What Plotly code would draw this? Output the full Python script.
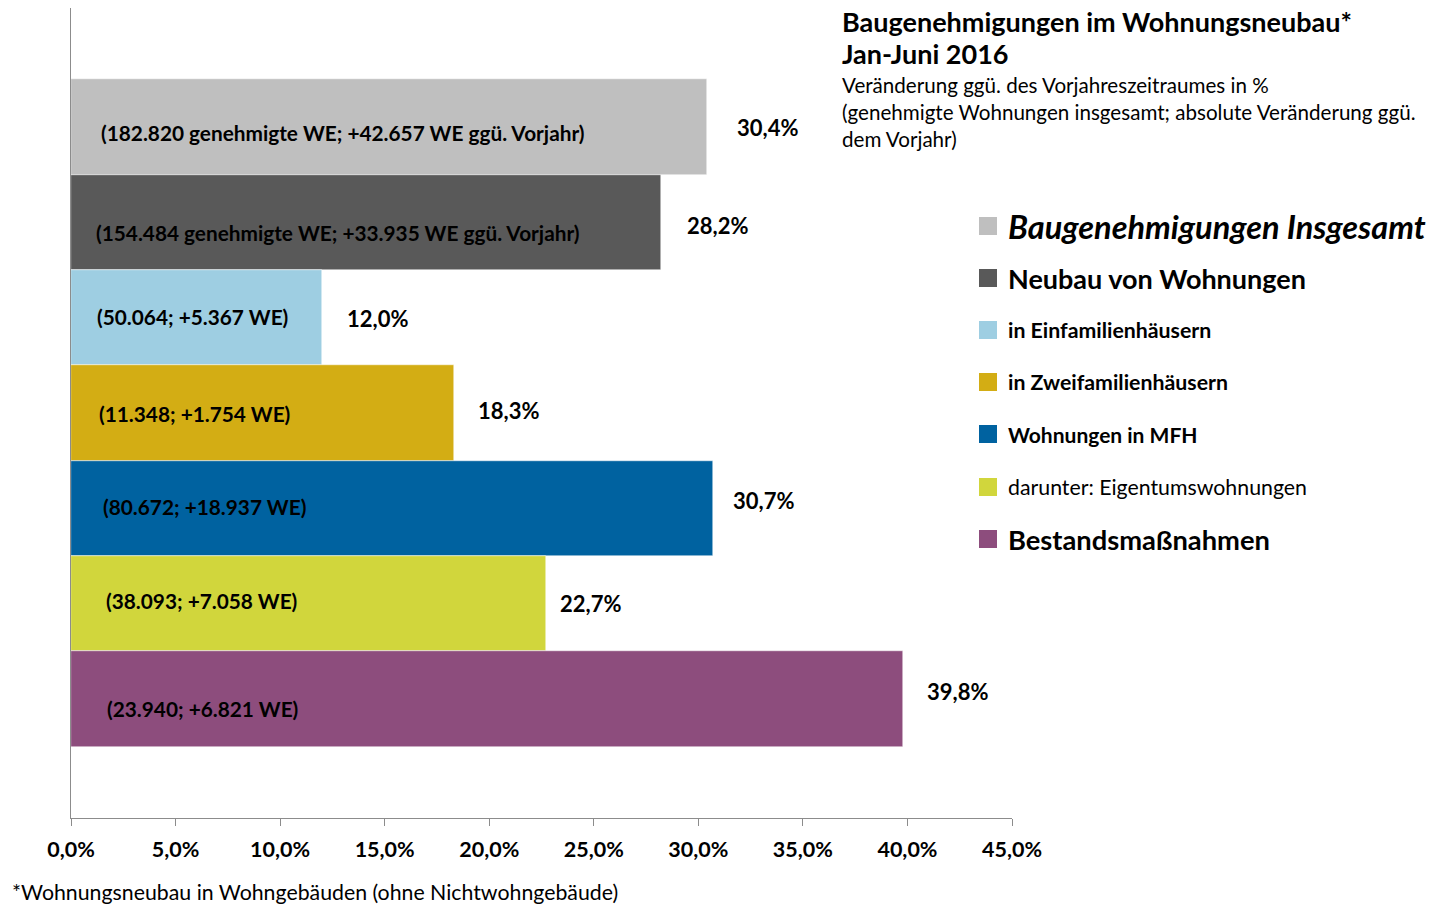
import plotly.graph_objects as go

# ---------------- data ----------------
categories = [
    "Baugenehmigungen Insgesamt",
    "Neubau von Wohnungen",
    "in Einfamilienhäusern",
    "in Zweifamilienhäusern",
    "Wohnungen in MFH",
    "darunter: Eigentumswohnungen",
    "Bestandsmaßnahmen",
]
change_pct = [30.4, 28.2, 12.0, 18.3, 30.7, 22.7, 39.8]
inner_labels = [
    "(182.820 genehmigte WE; +42.657 WE ggü. Vorjahr)",
    "(154.484 genehmigte WE; +33.935 WE ggü. Vorjahr)",
    "(50.064; +5.367 WE)",
    "(11.348; +1.754 WE)",
    "(80.672; +18.937 WE)",
    "(38.093; +7.058 WE)",
    "(23.940; +6.821 WE)",
]
value_labels = ["30,4%", "28,2%", "12,0%", "18,3%", "30,7%", "22,7%", "39,8%"]
tick_vals = [0, 5, 10, 15, 20, 25, 30, 35, 40, 45]
tick_text = ["0,0%", "5,0%", "10,0%", "15,0%", "20,0%", "25,0%", "30,0%", "35,0%", "40,0%", "45,0%"]

# ---------------- styles ----------------
colors = ["#bfbfbf", "#595959", "#9ecee2", "#d3ad14", "#0062a0", "#d1d63c", "#8d4d7d"]
FONT = "Lato, 'Open Sans', sans-serif"
PAGE_W, PAGE_H = 1439, 904
OFF = 8  # page body margin
W, H = PAGE_W - OFF, PAGE_H - OFF
# plot area in page pixels
L, R, T, B = 71, 1012, 8, 818

# small per-label nudges (pixels) to mimic the original placement
inner_dx = [28, 23, 24, 26, 30, 33, 34]
inner_dy = [-5, -10, 1, 0, 2, 3, -10]
val_dx = [28, 24, 23, 22, 18, 12, 22]
val_dy = [0, -3, -1, 3, 8, 0, 7]

# legend styles
leg_fonts = [
    dict(size=32.5, weight="bold", style="italic"),
    dict(size=27, weight="bold", style="normal"),
    dict(size=21.3, weight="bold", style="normal"),
    dict(size=21.3, weight="bold", style="normal"),
    dict(size=21, weight="bold", style="normal"),
    dict(size=21.3, weight="normal", style="normal"),
    dict(size=27.3, weight="bold", style="normal"),
]


def px2x(px):
    return (px - L) / (R - L)


def py2y(py):
    return (B - py) / (B - T)


ypos = list(range(len(categories)))

fig = go.Figure()
fig.add_trace(go.Bar(
    x=change_pct,
    y=ypos,
    orientation="h",
    width=1.0,
    marker=dict(color=colors, line=dict(color="white", width=0.5)),
    showlegend=False,
    hoverinfo="skip",
))

annotations = []
for i in range(len(categories)):
    annotations.append(dict(
        x=0, y=ypos[i], xref="x", yref="y", text=inner_labels[i],
        showarrow=False, xanchor="left", yanchor="middle",
        xshift=inner_dx[i], yshift=inner_dy[i],
        font=dict(family=FONT, size=20.8, color="black", weight="bold"),
    ))
    annotations.append(dict(
        x=change_pct[i], y=ypos[i], xref="x", yref="y", text=value_labels[i],
        showarrow=False, xanchor="left", yanchor="middle",
        xshift=val_dx[i], yshift=val_dy[i],
        font=dict(family=FONT, size=22, color="black", weight="bold"),
    ))

# title block (top right)
title_lines = [
    ("Baugenehmigungen im Wohnungsneubau*", 21, dict(size=27, weight="bold")),
    ("Jan-Juni 2016", 53, dict(size=27, weight="bold")),
    ("Veränderung ggü. des Vorjahreszeitraumes in %", 85, dict(size=20.6, weight="normal")),
    ("(genehmigte Wohnungen insgesamt; absolute Veränderung ggü.", 112, dict(size=20.6, weight="normal")),
    ("dem Vorjahr)", 139, dict(size=20.6, weight="normal")),
]
for txt, py, f in title_lines:
    annotations.append(dict(
        x=px2x(840), y=py2y(py), xref="paper", yref="paper", text=txt,
        showarrow=False, xanchor="left", yanchor="middle",
        font=dict(family=FONT, color="black", **f),
    ))

# custom legend
shapes = []
leg_rows = [226, 278, 330, 382, 434, 487, 539]
for i, name in enumerate(categories):
    py = leg_rows[i]
    shapes.append(dict(
        type="rect", xref="paper", yref="paper",
        x0=px2x(979), x1=px2x(997), y0=py2y(py + 9), y1=py2y(py - 9),
        fillcolor=colors[i], line=dict(width=0),
    ))
    annotations.append(dict(
        x=px2x(1006), y=py2y(py), xref="paper", yref="paper", text=name,
        showarrow=False, xanchor="left", yanchor="middle",
        font=dict(family=FONT, color="black", **leg_fonts[i]),
    ))

# footnote
annotations.append(dict(
    x=px2x(10), y=py2y(892), xref="paper", yref="paper",
    text="*Wohnungsneubau in Wohngebäuden (ohne Nichtwohngebäude)",
    showarrow=False, xanchor="left", yanchor="middle",
    font=dict(family=FONT, size=21.3, color="black"),
))

fig.update_layout(
    width=W, height=H,
    margin=dict(l=L - OFF, r=W - (R - OFF), t=T - OFF, b=H - (B - OFF), pad=0),
    paper_bgcolor="white", plot_bgcolor="white",
    bargap=0,
    annotations=annotations,
    shapes=shapes,
    xaxis=dict(
        range=[0, 45], tickvals=tick_vals, ticktext=tick_text,
        showgrid=False, zeroline=False,
        showline=True, linecolor="#8c8c8c", linewidth=1,
        ticks="outside", ticklen=7, tickcolor="#8c8c8c",
        tickfont=dict(family=FONT, size=21.5, color="black", weight="bold"),
        ticklabelstandoff=5,
    ),
    yaxis=dict(
        range=[7.25, -1.25], showticklabels=False, showgrid=False,
        zeroline=False, showline=True, linecolor="#8c8c8c", linewidth=1,
        ticks="",
    ),
)

fig.write_html("out.html")
